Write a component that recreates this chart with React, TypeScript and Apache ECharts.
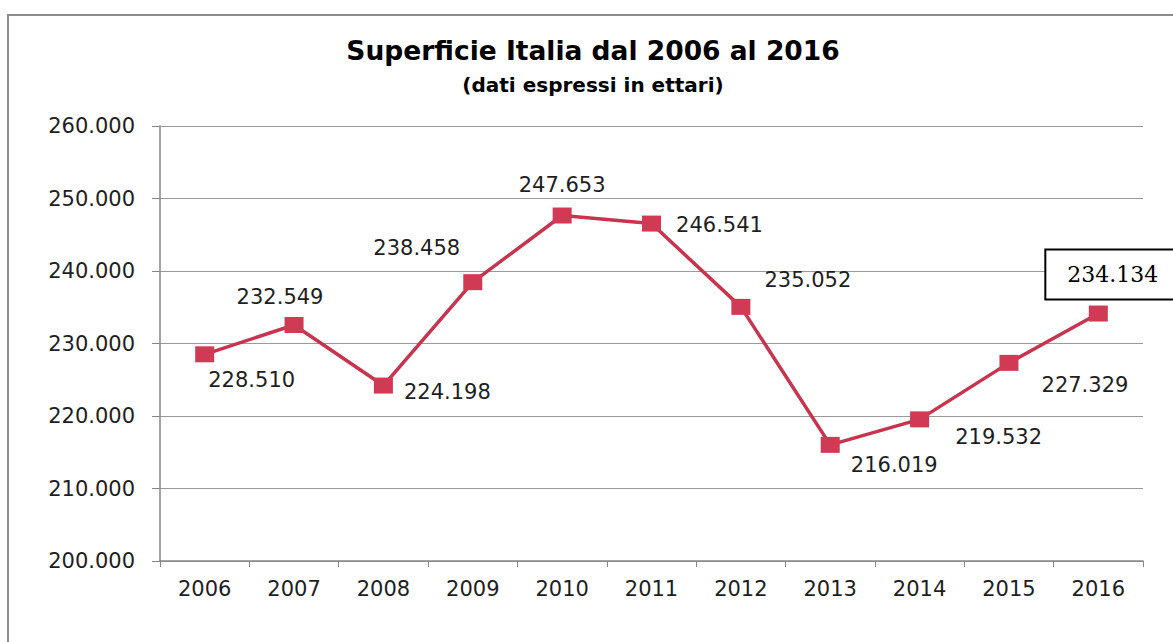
import React, { useEffect, useRef } from "react";
import * as echarts from "echarts";

const years = ["2006", "2007", "2008", "2009", "2010", "2011", "2012", "2013", "2014", "2015", "2016"];
const superficie = [228510, 232549, 224198, 238458, 247653, 246541, 235052, 216019, 219532, 227329, 234134];
const yMin = 200000;
const yMax = 260000;
const yStep = 10000;
const titleText = "Superficie Italia dal 2006 al 2016";
const subtitleText = "(dati espressi in ettari)";

// label placement (layout only)
const labelOffsets: [number, number][] = [
  [47, 26], [-14, -28], [64, 6], [-56, -34], [0, -31], [68, 1],
  [67, -27], [64, 20], [79, 18], [76, 22], [34, -39],
];

const fmt = (v: number) => String(Math.round(v)).replace(/\B(?=(\d{3})+(?!\d))/g, ".");

export default function App() {
  const ref = useRef<HTMLDivElement>(null);
  useEffect(() => {
    if (!ref.current) return;
    const chart = echarts.init(ref.current, undefined, { renderer: "svg" });
    const lastIdx = superficie.length - 1;
    const data = superficie.map((v, i) => {
      const base: any = {
        value: v,
        label: {
          show: true,
          position: "inside",
          offset: labelOffsets[i],
          formatter: (p: any) => fmt(p.value),
          fontFamily: "DejaVu Sans",
          fontSize: 21,
          color: "#1e1e1e",
        },
      };
      if (i === lastIdx) {
        base.label = {
          ...base.label,
          fontFamily: "DejaVu Serif",
          fontSize: 22,
          color: "#000",
          backgroundColor: "#fff",
          borderColor: "#000",
          borderWidth: 2,
          padding: [13, 60, 13, 21],
        };
      }
      return base;
    });
    chart.setOption({
      animation: false,
      backgroundColor: "#fff",
      grid: { left: 160, right: 30, top: 126, bottom: 81, containLabel: false },
      xAxis: {
        type: "category",
        data: years,
        boundaryGap: true,
        axisLine: { show: true, lineStyle: { color: "#868686", width: 1.5 } },
        axisTick: { show: true, length: 6, lineStyle: { color: "#868686" } },
        axisLabel: { margin: 17, fontFamily: "DejaVu Sans", fontSize: 21, color: "#1e1e1e" },
        splitLine: { show: false },
      },
      yAxis: {
        type: "value",
        min: yMin,
        max: yMax,
        interval: yStep,
        axisLine: { show: true, lineStyle: { color: "#868686", width: 1.5 } },
        axisTick: { show: true, length: 8, lineStyle: { color: "#868686" } },
        axisLabel: {
          margin: 25,
          formatter: (v: number) => fmt(v),
          fontFamily: "DejaVu Sans",
          fontSize: 21,
          color: "#1e1e1e",
        },
        splitLine: { show: true, lineStyle: { color: "#9a9a9a", width: 1.2 } },
      },
      series: [
        {
          type: "line",
          data,
          symbol: "rect",
          symbolSize: [19, 16],
          lineStyle: { color: "#C8334D", width: 3.5 },
          itemStyle: { color: "#D03A55" },
          z: 3,
        },
      ],
      graphic: [
        {
          type: "rect",
          shape: { x: 8, y: 15, width: 1400, height: 900 },
          style: { fill: "none", stroke: "#8c8c8c", lineWidth: 2 },
          silent: true,
        },
        {
          type: "text",
          x: 593,
          y: 50,
          style: {
            text: titleText,
            align: "center",
            verticalAlign: "middle",
            fontFamily: "DejaVu Sans",
            fontWeight: "bold",
            fontSize: 26.5,
            fill: "#000",
          },
        },
        {
          type: "text",
          x: 593,
          y: 85,
          style: {
            text: subtitleText,
            align: "center",
            verticalAlign: "middle",
            fontFamily: "DejaVu Sans",
            fontWeight: "bold",
            fontSize: 20,
            fill: "#000",
          },
        },
      ],
    });
    return () => chart.dispose();
  }, []);
  return (
    <div
      ref={ref}
      style={{ position: "absolute", left: 0, top: 0, width: 1173, height: 642, background: "#fff" }}
    />
  );
}
